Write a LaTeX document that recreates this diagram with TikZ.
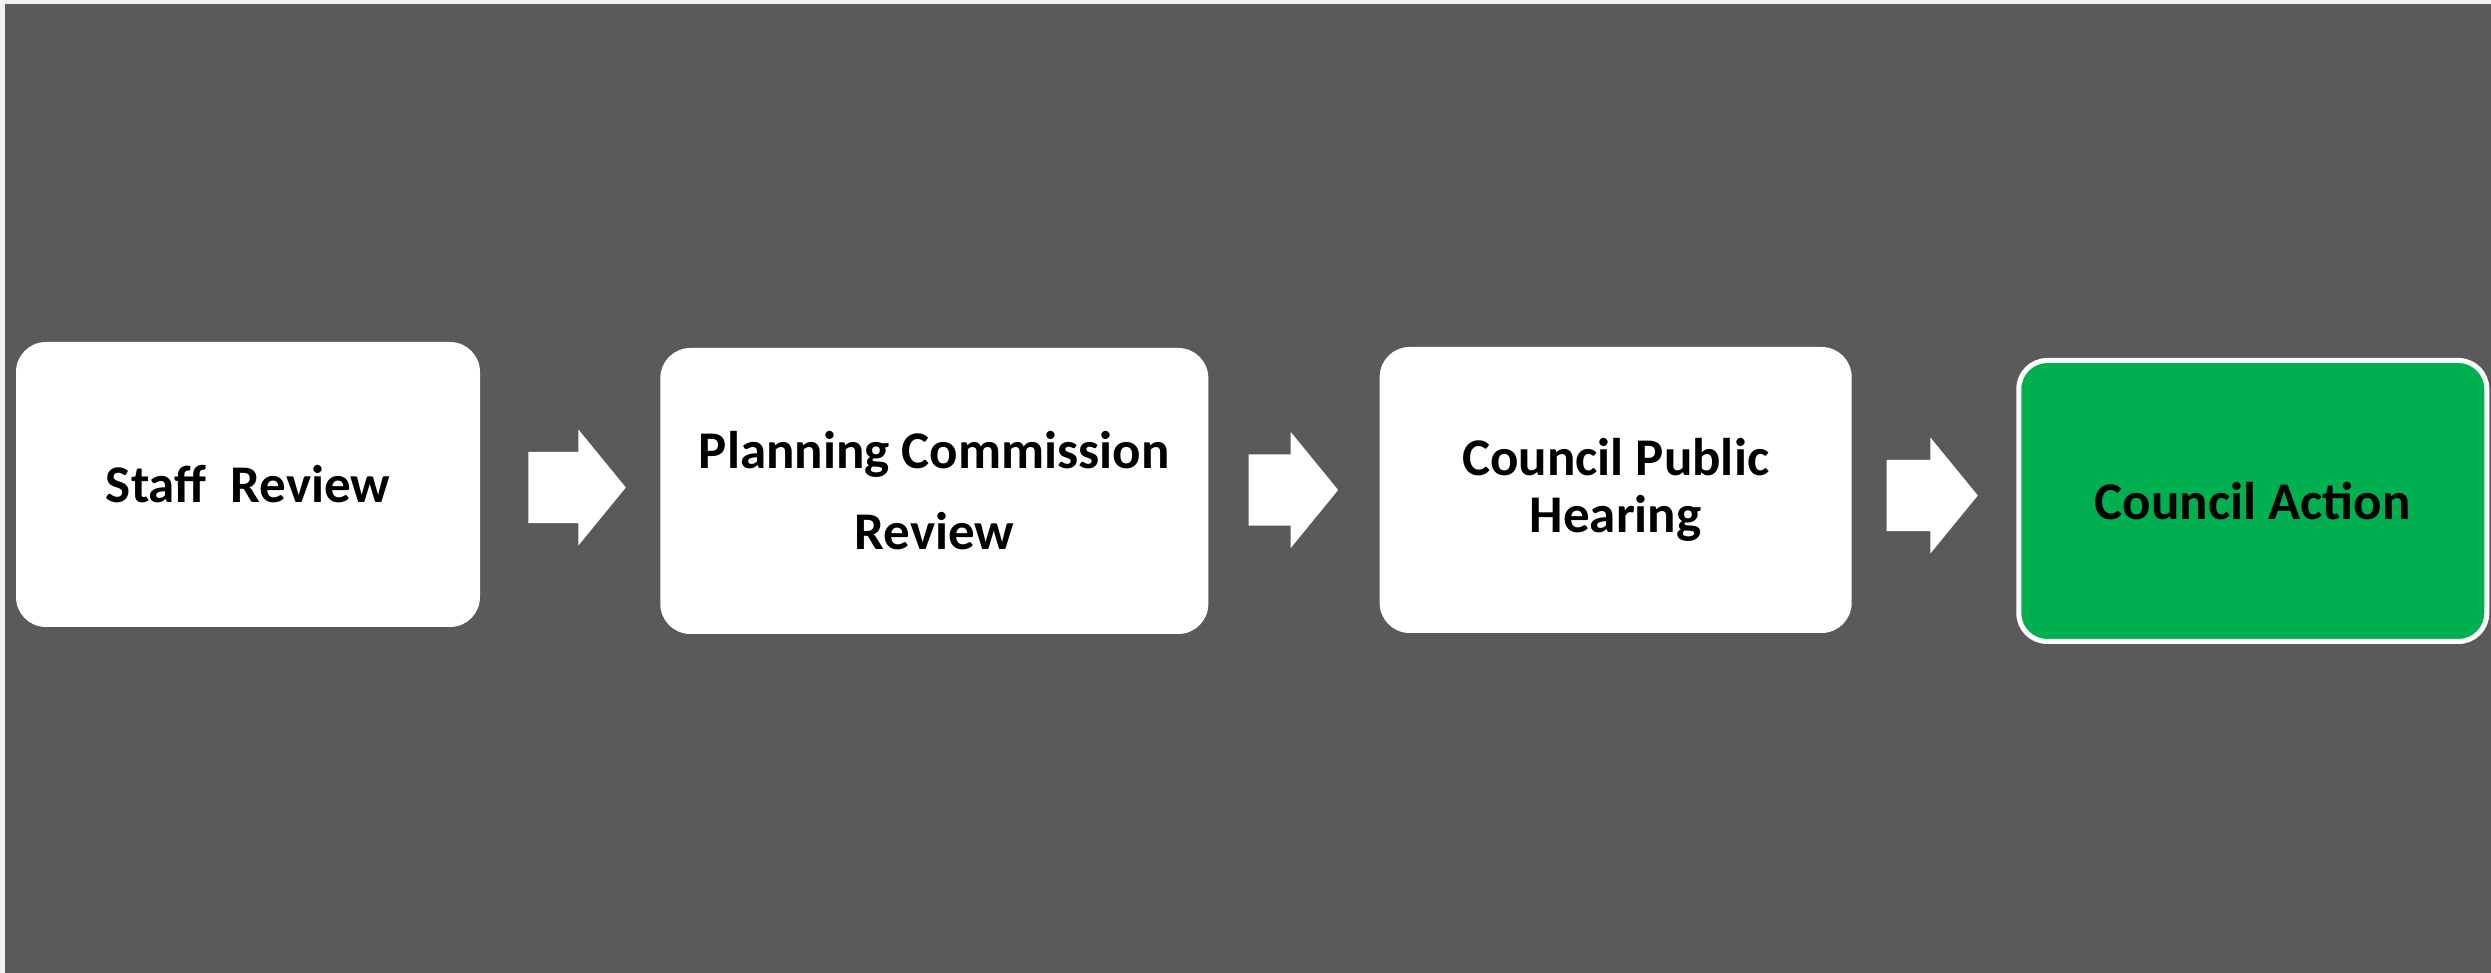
\documentclass[tikz,border=0pt]{standalone}
\usepackage{fontspec}
\setmainfont{Carlito}
\usetikzlibrary{positioning,shapes.arrows}
\definecolor{slate}{HTML}{5A5A5A}
\definecolor{paper}{HTML}{F2F2F2}
\definecolor{go}{HTML}{00B050}
\tikzstyle{stage} = [rectangle,
                    rounded corners=9pt,
                    fill=white,
                    align=center,
                    inner sep=0pt,
                    font=\bfseries\fontsize{15.9}{19}\selectfont]
\tikzstyle{push} = [single arrow,
                   fill=white,
                   inner xsep=10.05pt,
                   inner ysep=10.5pt,
                   single arrow head extend=6.75pt,
                   single arrow tip angle=101.5]
\tikzstyle{flow} = [x=0.3pt,
                   y=-0.3pt]

\begin{document}
\begin{tikzpicture}[flow]
    \useasboundingbox (0,0) rectangle (2491,973);
    \fill[paper] (0,0) rectangle (2491,973);
    \fill[slate] (5,4) rectangle (2491,973);
    \node (0) at (248,484.5) [stage, minimum width=139.2pt, minimum height=85.5pt] {Staff\ \ Review};
    \node (1) [right=53.7pt of 0, yshift=-1.95pt] [stage, minimum width=164.4pt, minimum height=85.8pt,
      font=\bfseries\fontsize{15.9}{24.3}\selectfont] {Planning Commission\\Review};
    \node (2) [right=51pt of 1, yshift=0.3pt] [stage, minimum width=141.6pt, minimum height=85.8pt,
      font=\bfseries\fontsize{15.9}{17.1}\selectfont] {Council Public\\Hearing};
    \node (3) [right=49.2pt of 2, yshift=-3.3pt] [stage, fill=go, draw=white, line width=1.5pt,
      rounded corners=8.5pt, minimum width=140.4pt, minimum height=84.3pt] {Council Action};
    \node (4) [push, right=14.1pt of 0, yshift=-0.9pt] {};
    \node (5) [push, inner xsep=8.85pt, right=11.7pt of 1, yshift=0.3pt] {};
    \node (6) [push, inner xsep=9.1pt, right=10.1pt of 2, yshift=-1.65pt] {};
\end{tikzpicture}
\end{document}
